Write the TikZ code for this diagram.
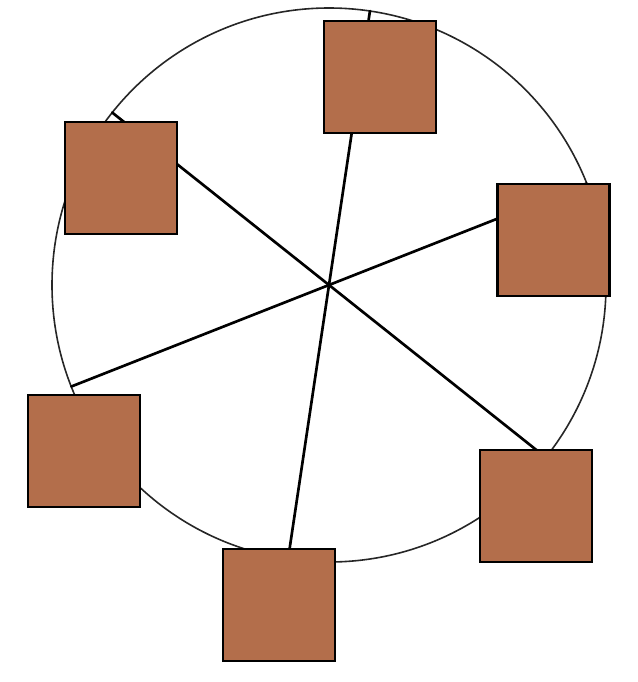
\documentclass[tikz,border=0pt]{standalone}
\usepackage{tikz}
\usepackage{xcolor}
\usetikzlibrary{positioning, calc}

\definecolor{cabin}{RGB}{179,110,75}

\tikzset{
  gondola/.style={draw=black, fill=cabin, line width=1.6pt, minimum size=84pt, inner sep=0pt},
  spoke/.style={line width=2pt, line cap=round},
  rim/.style={line width=1.2pt, draw=black!85}
}

\begin{document}
\begin{tikzpicture}[x=0.75pt,y=0.75pt,yscale=-1,xscale=1]
\useasboundingbox (0,0) rectangle (638,682);

%Shape: Circle
\coordinate (hub) at (329,285);
\draw [rim] (hub) circle (277);

%Rim points
\coordinate (rimA) at ($(hub)+(-21.5:277)$);
\coordinate (rimB) at ($(hub)+(-81.5:277)$);
\coordinate (rimC) at ($(hub)+(-141.5:277)$);
\coordinate (rimD) at ($(hub)+(-201.5:277)$);
\coordinate (rimE) at ($(hub)+(-261.5:277)$);
\coordinate (rimF) at ($(hub)+(-321.5:277)$);

%Straight Lines
\draw [spoke] (rimA) -- (hub) -- (rimD) ;
%Straight Lines
\draw [spoke] (rimB) -- (hub) -- (rimE) ;
%Straight Lines
\draw [spoke] (rimC) -- (hub) -- (rimF) ;

%Shape: Square
\node [gondola] (cabTop) at (380,77) {};
%Shape: Square
\node [gondola] (cabTopLeft) at (121.4,178.2) {};
%Shape: Square
\node [gondola] (cabRight) at (553.5,239.7) {};
%Shape: Square
\node [gondola] (cabLeft) at (84,450.7) {};
%Shape: Square
\node [gondola] (cabBottomRight) at (536.2,506.4) {};
%Shape: Square
\node [gondola] (cabBottom) at (279.2,605.4) {};

\end{tikzpicture}
\end{document}
